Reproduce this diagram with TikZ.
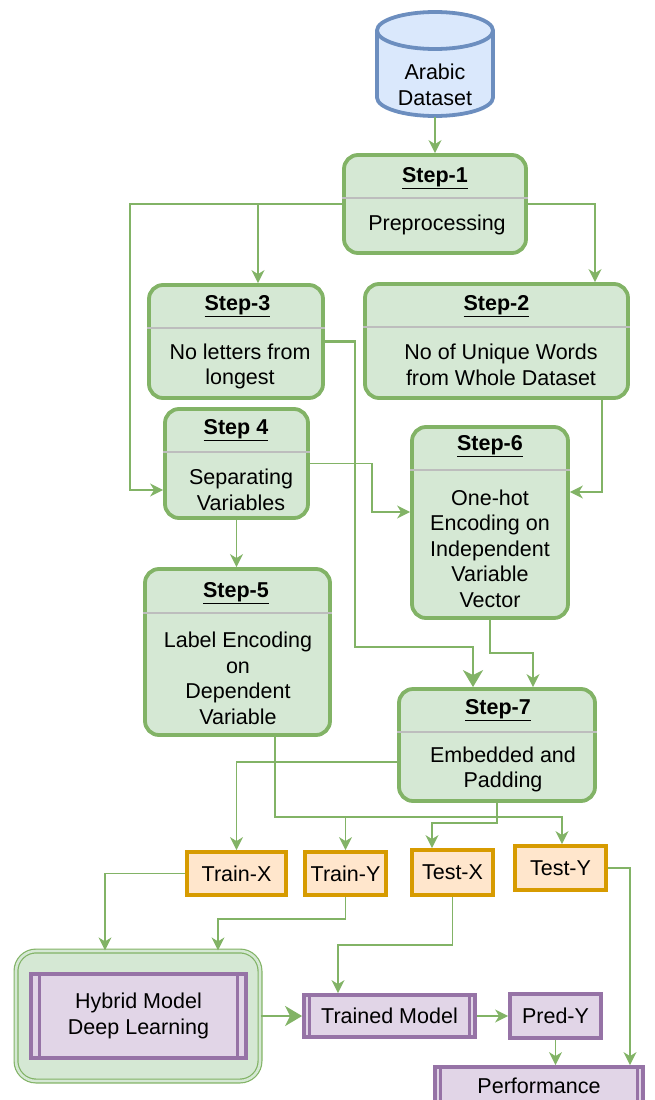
\documentclass[tikz,border=0pt]{standalone}
\usepackage{fontspec}
\setmainfont{Liberation Sans}
\usepackage{tikz}
\usetikzlibrary{arrows.meta, positioning, calc}

\definecolor{grnfill}{HTML}{D5E8D4}
\definecolor{grnline}{HTML}{82B366}
\definecolor{purfill}{HTML}{E1D5E7}
\definecolor{purline}{HTML}{9673A6}
\definecolor{orgfill}{HTML}{FFE6CC}
\definecolor{orgline}{HTML}{D79B00}
\definecolor{blufill}{HTML}{DAE8FC}
\definecolor{bluline}{HTML}{6C8EBF}
\definecolor{sepgray}{HTML}{BDBDBD}

\newcommand{\bodyfont}{\fontsize{21.5}{25.5}\selectfont}

\begin{document}
\begin{tikzpicture}[
    x=1pt, y=-1pt,
    stepbox/.style={rectangle, draw=grnline, fill=grnfill, line width=3.8pt,
                    rounded corners=14pt, inner sep=0pt},
    steptitle/.style={font=\bodyfont\bfseries, inner sep=0pt, anchor=base},
    steptext/.style={font=\bodyfont, align=center, inner sep=0pt},
    sepline/.style={draw=sepgray, line width=1.8pt},
    databox/.style={rectangle, draw=orgline, fill=orgfill, line width=3.8pt,
                    inner sep=0pt, font=\bodyfont},
    procbox/.style={rectangle, draw=purline, fill=purfill, line width=3.8pt,
                    inner sep=0pt, font=\bodyfont, align=center},
    procbar/.style={draw=purline, line width=3pt},
    arr/.style={draw=grnline, line width=1.5pt, -{Stealth[length=13pt, width=13pt, inset=4pt]}},
    arrthick/.style={draw=grnline, line width=2.8pt, -{Stealth[length=17pt, width=20pt, inset=5pt]}},
]
\useasboundingbox (0,0) rectangle (654,1100);
\clip (0,0) rectangle (654,1100);

% Dataset
\path[draw=bluline, fill=blufill, line width=3.8pt]
    (377,30.5) -- (377,97.5) arc (180:0:58 and 18.5) -- (493,30.5) arc (0:-180:58 and 18.5) -- cycle;
\draw[bluline, line width=3.8pt] (377,30.5) arc (180:0:58 and 18.5);
\node[minimum width=116pt, minimum height=106pt, inner sep=0pt] (db) at (435,64) {};
\node[steptext] (dblabel) at (435,85) {Arabic\\Dataset};

% Step boxes
\node[stepbox, minimum width=182pt, minimum height=98pt] (s1) at (435,204) {};
\draw[sepline] (s1.west |- 0,198) -- (s1.east |- 0,198);
\node[steptitle] (t1) at (435,182.5) {\underline{Step-1}};
\node[steptext] (b1) at (437,225) {Preprocessing};

\node[stepbox, minimum width=174pt, minimum height=113pt] (s3) at (236,341.5) {};
\draw[sepline] (s3.west |- 0,328) -- (s3.east |- 0,328);
\node[steptitle] (t3) at (237.5,310.5) {\underline{Step-3}};
\node[steptext] (b3) at (240,366.5) {No letters from\\longest};

\node[stepbox, minimum width=263pt, minimum height=114pt] (s2) at (496.5,341) {};
\draw[sepline] (s2.west |- 0,327) -- (s2.east |- 0,327);
\node[steptitle] (t2) at (496.5,310.5) {\underline{Step-2}};
\node[steptext] (b2) at (501,365) {No of Unique Words\\from Whole Dataset};

\node[stepbox, minimum width=143pt, minimum height=109pt] (s4) at (236.5,463.5) {};
\draw[sepline] (s4.west |- 0,452) -- (s4.east |- 0,452);
\node[steptitle] (t4) at (236,434.5) {\underline{Step 4}};
\node[steptext] (b4) at (241,490) {Separating\\Variables};

\node[stepbox, minimum width=156pt, minimum height=191pt] (s6) at (490,522.5) {};
\draw[sepline] (s6.west |- 0,470) -- (s6.east |- 0,470);
\node[steptitle] (t6) at (490,450.5) {\underline{Step-6}};
\node[steptext] (b6) at (490,548.5) {One-hot\\Encoding on\\Independent\\Variable\\Vector};

\node[stepbox, minimum width=185pt, minimum height=166pt] (s5) at (237.5,652) {};
\draw[sepline] (s5.west |- 0,613) -- (s5.east |- 0,613);
\node[steptitle] (t5) at (236,597.5) {\underline{Step-5}};
\node[steptext] (b5) at (238,678.5) {Label Encoding\\on\\Dependent\\Variable};

\node[stepbox, minimum width=196pt, minimum height=112pt] (s7) at (497,745) {};
\draw[sepline] (s7.west |- 0,732) -- (s7.east |- 0,732);
\node[steptitle] (t7) at (498,714.5) {\underline{Step-7}};
\node[steptext] (b7) at (503,769.5) {Embedded and\\Padding};

% Split data
\node[databox, minimum width=99pt, minimum height=43pt] (tx) at (236.5,873.5) {Train-X};
\node[databox, minimum width=81pt, minimum height=43pt] (ty) at (345.5,873.5) {Train-Y};
\node[databox, minimum width=81pt, minimum height=45pt] (tsx) at (452.5,872.5) {Test-X};
\node[databox, minimum width=91pt, minimum height=44pt] (tsy) at (560.5,868) {Test-Y};

% Models
\node[rectangle, draw=grnline, double=grnfill, double distance=2.6pt, line width=1.2pt,
      fill=grnfill, rounded corners=20pt, minimum width=244pt, minimum height=130pt] (hyb) at (138,1016) {};
\node[procbox, minimum width=215pt, minimum height=84pt] (hybin) at (138.5,1016) {Hybrid Model\\Deep Learning};
\draw[procbar] ([xshift=10.5pt]hybin.north west) -- ([xshift=10.5pt]hybin.south west);
\draw[procbar] ([xshift=-10.5pt]hybin.north east) -- ([xshift=-10.5pt]hybin.south east);

\node[procbox, minimum width=171pt, minimum height=42pt] (tm) at (389.5,1016) {Trained Model};
\draw[procbar] ([xshift=7pt]tm.north west) -- ([xshift=7pt]tm.south west);
\draw[procbar] ([xshift=-7pt]tm.north east) -- ([xshift=-7pt]tm.south east);

\node[procbox, minimum width=91pt, minimum height=44pt] (py) at (555.5,1016) {Pred-Y};

\node[procbox, minimum width=208pt, minimum height=38pt] (perf) at (539,1086) {Performance};
\draw[procbar] ([xshift=7pt]perf.north west) -- ([xshift=7pt]perf.south west);
\draw[procbar] ([xshift=-7pt]perf.north east) -- ([xshift=-7pt]perf.south east);

% Arrows
\draw[arr] (db.south) -- (s1.north);
\draw[arr] (s1.west) -| (130,490) -- (s4.west |- 0,490);
\draw[arr] (s1.west -| 258,0) -- (s3.north -| 258,0);
\draw[arr] (s1.east) -| (s2.north -| 595,0);
\draw[arrthick] (s3.east) -| (355,647) -| (s7.north -| 473,0);
\draw[arr] (s4.east) -| (372,512) -- (s6.west |- 0,512);
\draw[arr] (s2.south -| 602,0) |- (s6.east |- 0,492);
\draw[arr] (s4.south) -- (s4.south |- s5.north);
\draw[arr] (s6.south) -- (490,653) -| (s7.north -| 533,0);
\draw[arr] (s7.west |- 0,762) -| (tx.north);
\draw[arr] (s5.south -| 275,0) |- (562,817) -- (tsy.north -| 562,0);
\draw[arr] (ty.north |- 0,817) -- (ty.north);
\draw[arr] (s7.south) |- (432,823) -- (tsx.north -| 432,0);
\draw[arr] (tx.west) -| (hyb.north -| 105,0);
\draw[arr] (ty.south) |- (218,919) -- (hyb.north -| 218,0);
\draw[arr] (tsx.south) |- (338,945) -- (tm.north -| 338,0);
\draw[arr] (tsy.east) -| (perf.north -| 630,0);
\draw[arrthick] (hyb.east) -- (tm.west);
\draw[arr] (tm.east) -- (py.west);
\draw[arr] (py.south) -- (py.south |- perf.north);

\end{tikzpicture}
\end{document}
